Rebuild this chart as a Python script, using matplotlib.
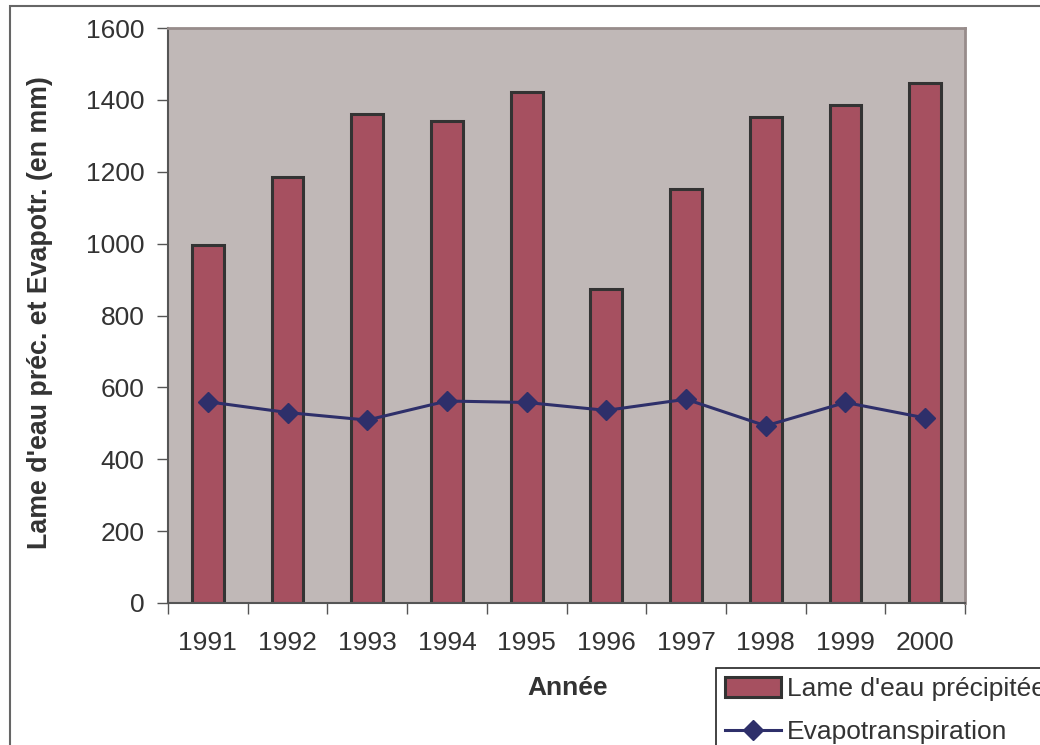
import matplotlib
matplotlib.use("Agg")
import matplotlib.pyplot as plt
import numpy as np
from matplotlib.patches import Rectangle

years = ["1991", "1992", "1993", "1994", "1995", "1996", "1997", "1998", "1999", "2000"]
precip = [996, 1185, 1362, 1340, 1422, 874, 1151, 1353, 1386, 1446]
evapo = [560, 530, 509, 562, 558, 536, 567, 493, 558, 515]
yticks = [0, 200, 400, 600, 800, 1000, 1200, 1400, 1600]

plt.rcParams['font.family'] = ['Liberation Sans', 'DejaVu Sans']
W, H = 1040, 745
fig = plt.figure(figsize=(W / 100, H / 100), dpi=100)
fig.patch.set_facecolor('white')

# outer chart frame (extends beyond right/bottom)
fig.add_artist(Rectangle((10 / W, -0.1), 1.2, 1 - 6 / H + 0.1, transform=fig.transFigure,
                         fill=False, edgecolor='#666666', linewidth=1.5))

ax = fig.add_axes([168 / W, 1 - 603 / H, (965 - 168) / W, (603 - 28) / H])
ax.set_facecolor('#C0B8B7')

x = np.arange(len(years))
bars = ax.bar(x, precip, width=0.4, color='#A65060', edgecolor='#333333', linewidth=2.2,
              label="Lame d'eau précipitée", zorder=2)
line, = ax.plot(x, evapo, color='#2E2F6A', linewidth=2.2, marker='D', markersize=10,
                label='Evapotranspiration', zorder=3)

ax.set_xlim(-0.5, len(years) - 0.5)
ax.set_ylim(0, 1600)
ax.set_yticks(yticks)
ax.set_yticklabels([str(v) for v in yticks])
ax.set_xticks(np.arange(-0.5, len(years), 1.0))
ax.set_xticklabels([])
ax.set_xticks(x, minor=True)
ax.set_xticklabels(years, minor=True)

ax.tick_params(axis='x', which='major', direction='out', length=8, width=1, color='#555555')
ax.tick_params(axis='x', which='minor', length=0, pad=20, labelsize=19, labelcolor='#333333')
ax.tick_params(axis='y', direction='out', length=8, width=1, color='#555555', pad=9,
               labelsize=19, labelcolor='#333333')

for s in ['left', 'bottom']:
    ax.spines[s].set_color('#555555')
    ax.spines[s].set_linewidth(1.5)
for s in ['top', 'right']:
    ax.spines[s].set_color('#978C8B')
    ax.spines[s].set_linewidth(2)

fig.text(40 / W, 1 - 313 / H, "Lame d'eau préc. et Evapotr. (en mm)", rotation=90,
         ha='center', va='center', fontsize=19.3, fontweight='bold', color='#333333')
fig.text(568 / W, 1 - 688 / H, "Année", ha='center', va='center', fontsize=19,
         fontweight='bold', color='#333333')

leg = fig.legend(handles=[bars, line], labels=["Lame d'eau précipitée", "Evapotranspiration"],
                 loc='upper left', bbox_to_anchor=(716 / W, 1 - 668 / H),
                 bbox_transform=fig.transFigure, fontsize=19, frameon=True,
                 fancybox=False, edgecolor='#222222', framealpha=1, borderpad=0.35,
                 handlelength=2.1, handleheight=0.75, handletextpad=0.25, labelspacing=0.72,
                 borderaxespad=0)
leg.get_frame().set_linewidth(1.2)
for t in leg.get_texts():
    t.set_color('#333333')

fig.savefig('out.png', dpi=100)
